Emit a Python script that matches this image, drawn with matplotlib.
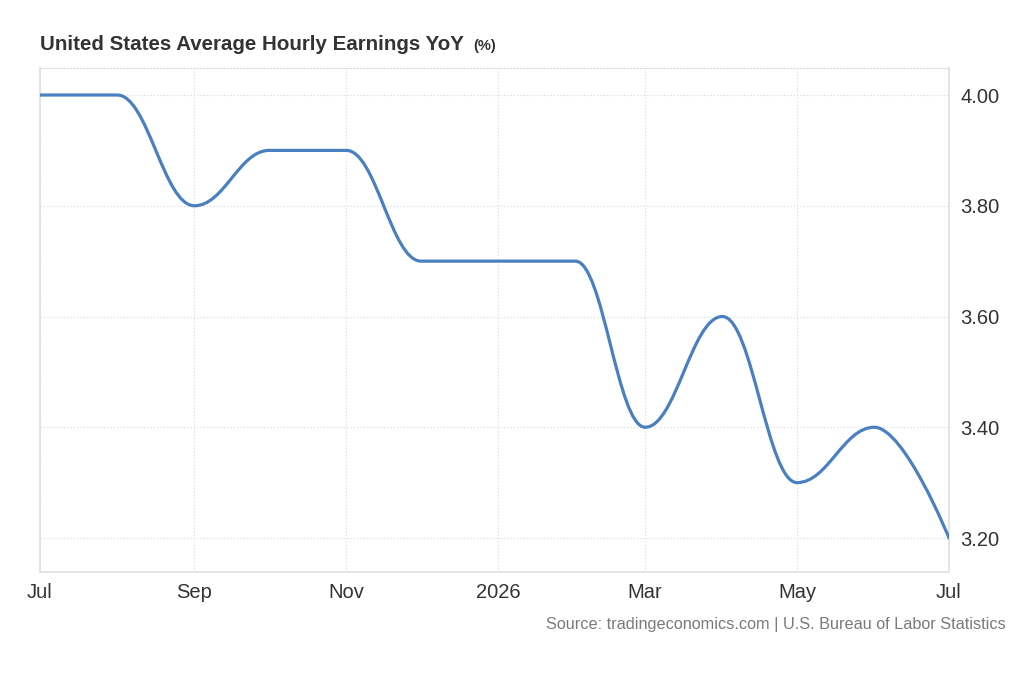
import datetime as dt
import matplotlib
matplotlib.use("Agg")
import matplotlib.pyplot as plt
import matplotlib.dates as mdates
from matplotlib.path import Path
from matplotlib.patches import PathPatch

plt.rcParams['font.family'] = ['Liberation Sans', 'DejaVu Sans']

# monthly readings, Jul 2025 .. Jul 2026
months = [dt.date(2025, 7, 1), dt.date(2025, 8, 1), dt.date(2025, 9, 1), dt.date(2025, 10, 1),
          dt.date(2025, 11, 1), dt.date(2025, 12, 1), dt.date(2026, 1, 1), dt.date(2026, 2, 1),
          dt.date(2026, 3, 1), dt.date(2026, 4, 1), dt.date(2026, 5, 1), dt.date(2026, 6, 1),
          dt.date(2026, 7, 1)]
values = [4.0, 4.0, 3.8, 3.9, 3.9, 3.7, 3.7, 3.7, 3.4, 3.6, 3.3, 3.4, 3.2]

tick_dates = [dt.date(2025, 7, 1), dt.date(2025, 9, 1), dt.date(2025, 11, 1), dt.date(2026, 1, 1),
              dt.date(2026, 3, 1), dt.date(2026, 5, 1), dt.date(2026, 7, 1)]
tick_labels = ["Jul", "Sep", "Nov", "2026", "Mar", "May", "Jul"]
y_ticks = [3.2, 3.4, 3.6, 3.8, 4.0]

x = mdates.date2num(months)

fig = plt.figure(figsize=(10.24, 7.0), dpi=100)
ax = fig.add_axes([40 / 1024, 1 - 572 / 700, 909 / 1024, 504 / 700])

# spline-like line: bezier segments with flat handles, free end at the last point
verts = [(x[0], values[0])]
codes = [Path.MOVETO]
n = len(x)
for i in range(1, n):
    dx = x[i] - x[i - 1]
    c1 = (x[i - 1] + 0.4 * dx, values[i - 1])
    c2 = (x[i], values[i]) if i == n - 1 else (x[i] - 0.4 * dx, values[i])
    verts += [c1, c2, (x[i], values[i])]
    codes += [Path.CURVE4] * 3
ax.add_patch(PathPatch(Path(verts, codes), facecolor="none", edgecolor="#4a80c2",
                       linewidth=2.3, capstyle="round", joinstyle="round", zorder=3))

ax.set_xlim(x[0], x[-1])
ax.set_ylim(3.1386, 4.0488)

ax.set_xticks(mdates.date2num(tick_dates))
ax.set_xticklabels(tick_labels)
ax.set_yticks(y_ticks)
ax.set_yticklabels(["%.2f" % v for v in y_ticks])
ax.yaxis.tick_right()

ax.tick_params(axis="both", length=0, labelsize=14.5, colors="#333333")
ax.tick_params(axis="y", pad=8)
ax.tick_params(axis="x", pad=8)

ax.grid(True, color="#d8d8d8", linestyle=(0, (1, 2)), linewidth=0.8)
for side in ["left", "right", "bottom"]:
    ax.spines[side].set_color("#e0e0e0")
    ax.spines[side].set_linewidth(1.2)
ax.spines["top"].set_color("#d8d8d8")
ax.spines["top"].set_linestyle((0, (1, 2)))
ax.spines["top"].set_linewidth(0.8)

fig.text(40 / 1024, 1 - 45 / 700, "United States Average Hourly Earnings YoY", fontsize=14.8,
         fontweight="bold", color="#333333", va="center", ha="left")
fig.text(473 / 1024, 1 - 46 / 700, "(%)", fontsize=10.5, fontweight="bold",
         color="#333333", va="center", ha="left")
fig.text(1006 / 1024, 1 - 624 / 700,
         "Source: tradingeconomics.com | U.S. Bureau of Labor Statistics",
         fontsize=11.7, color="#7a7a7a", ha="right", va="center")

fig.savefig("out.png", dpi=100)
plt.close()
